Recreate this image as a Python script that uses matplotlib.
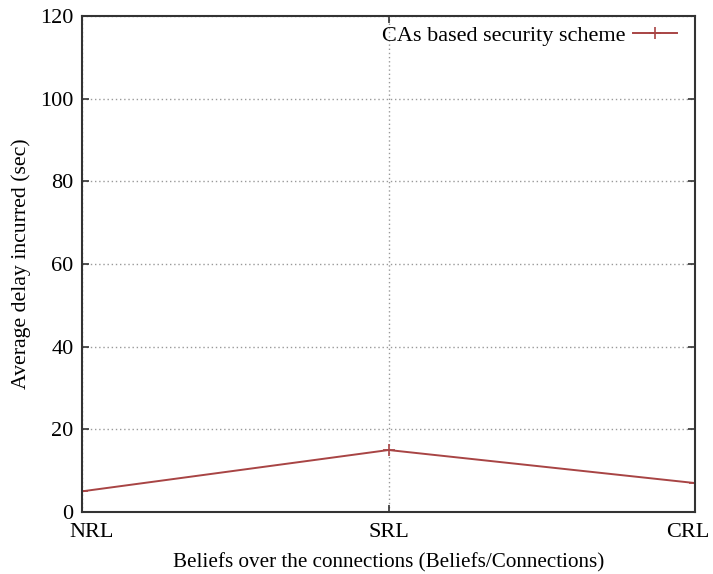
import matplotlib
matplotlib.use('Agg')
import matplotlib.pyplot as plt
from matplotlib.transforms import ScaledTranslation

categories = ['NRL', 'SRL', 'CRL']
delay = [5, 15, 7]
yticks = [0, 20, 40, 60, 80, 100, 120]

plt.rcParams['font.family'] = ['Liberation Serif', 'DejaVu Serif']

fig = plt.figure(figsize=(7.13, 5.74), dpi=100)
ax = fig.add_axes([0.115, 0.108, 0.86, 0.864])

x = list(range(len(categories)))
ax.plot(x, delay, color='#a84444', lw=1.4, marker='+', markersize=9,
        markeredgewidth=1.2, label='CAs based security scheme')

ax.set_xlim(0, len(categories) - 1)
ax.set_ylim(0, 120)
ax.set_xticks(x)
ax.set_xticklabels(categories)
ax.set_yticks(yticks)
ax.tick_params(direction='in', length=5, width=1.2, top=True, right=True,
               labelsize=16, color='#333333')
ax.tick_params(axis='y', pad=6)
ax.tick_params(axis='x', pad=8)
ax.grid(True, linestyle=(0, (1, 2)), color='#999999', lw=1)

# gnuplot-style: end labels pulled inside the axis
labels = ax.get_xticklabels()
labels[0].set_transform(labels[0].get_transform() + ScaledTranslation(0.10, 0, fig.dpi_scale_trans))
labels[-1].set_transform(labels[-1].get_transform() + ScaledTranslation(-0.07, 0, fig.dpi_scale_trans))

for s in ax.spines.values():
    s.set_linewidth(1.5)
    s.set_color('#333333')

ax.set_xlabel('Beliefs over the connections (Beliefs/Connections)', fontsize=15.2, labelpad=8)
ax.set_ylabel('Average delay incurred (sec)', fontsize=15.7, labelpad=7)

ax.legend(loc='upper right', bbox_to_anchor=(0.985, 1.0), frameon=False,
          markerfirst=False, fontsize=16, handlelength=2, borderaxespad=0.0,
          handletextpad=0.3)

fig.savefig('out.png', dpi=100)
